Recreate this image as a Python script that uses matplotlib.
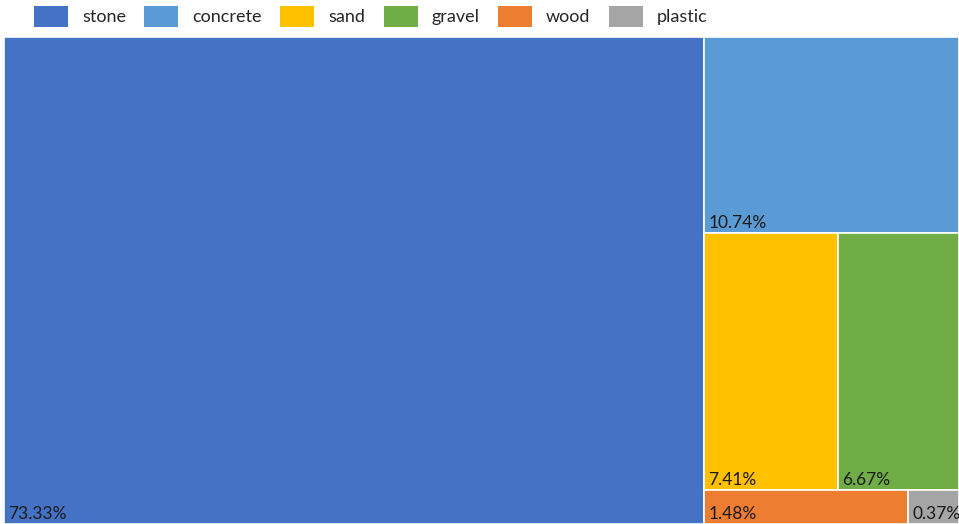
import matplotlib.pyplot as plt
from matplotlib.patches import Rectangle, Patch

# data
materials = ['stone', 'concrete', 'sand', 'gravel', 'wood', 'plastic']
shares = [73.33, 10.74, 7.41, 6.67, 1.48, 0.37]
colors = ['#4472C4', '#5B9BD5', '#FFC000', '#70AD47', '#ED7D31', '#A5A5A5']
# how the remaining items are grouped into rows (indices into the lists above)
rest_rows = [[1], [2, 3], [4, 5]]

plt.rcParams['font.family'] = ['Lato', 'DejaVu Sans']

fig = plt.figure(figsize=(9.59, 5.24), dpi=100)
ax = fig.add_axes([4 / 959, 0, 955 / 959, 487 / 524])
ax.set_xlim(0, 1)
ax.set_ylim(0, 1)
ax.axis('off')

total = sum(shares)


def label(x, y, text):
    ax.annotate(text, (x, y), xytext=(4, 5), textcoords='offset pixels',
                ha='left', va='baseline', fontsize=12.5, color='#1a1a1a',
                annotation_clip=False, clip_on=False)


# first item: full-height column on the left
w0 = shares[0] / total
ax.add_patch(Rectangle((0, 0), w0, 1, facecolor=colors[0], edgecolor='white', lw=1.2))
label(0, 0, f'{shares[0]:.2f}%')

# the rest: stacked rows in the right column
rest_total = total - shares[0]
top = 1.0
for row in rest_rows:
    row_sum = sum(shares[i] for i in row)
    h = row_sum / rest_total
    y = top - h
    x = w0
    for i in row:
        w = (1 - w0) * shares[i] / row_sum
        ax.add_patch(Rectangle((x, y), w, h, facecolor=colors[i], edgecolor='white', lw=1.2))
        label(x, y, f'{shares[i]:.2f}%')
        x += w
    top = y

handles = [Patch(facecolor=c, edgecolor='none') for c in colors]
fig.legend(handles, materials, loc='upper left', bbox_to_anchor=(34 / 959, 1 - 6 / 524),
           ncol=6, frameon=False, fontsize=13, labelcolor='#262626',
           borderpad=0, borderaxespad=0,
           handlelength=1.88, handleheight=1.4, handletextpad=0.78, columnspacing=1.02)

fig.savefig('out.png', dpi=100)
